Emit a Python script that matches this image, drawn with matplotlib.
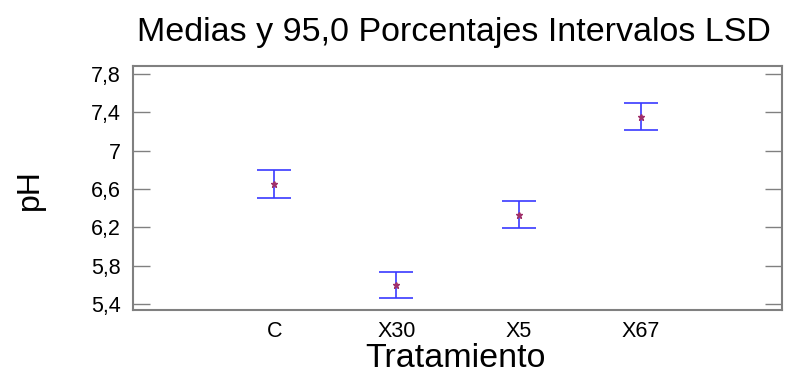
import matplotlib
matplotlib.use("Agg")
import matplotlib.pyplot as plt
from matplotlib.ticker import FuncFormatter

plt.rcParams["font.family"] = ["Liberation Sans", "DejaVu Sans"]

tratamientos = ["C", "X30", "X5", "X67"]
medias = [6.65, 5.595, 6.33, 7.352]
lsd = [0.146, 0.134, 0.141, 0.141]
yticks = [5.4, 5.8, 6.2, 6.6, 7.0, 7.4, 7.8]

fig = plt.figure(figsize=(7.99, 3.74), dpi=100)
ax = fig.add_axes([133 / 799, 1 - 310 / 374, 649 / 799, 244 / 374])

x = list(range(len(tratamientos)))
ax.errorbar(x, medias, yerr=lsd, fmt="none", ecolor="#3a3aff", elinewidth=1.2,
            capsize=12, capthick=1.2)
ax.plot(x, medias, linestyle="none", marker="*", markersize=5, color="#a0306a")

ax.set_xlim(-1.156, 4.156)
ax.set_ylim(5.337, 7.883)
ax.set_xticks(x)
ax.set_xticklabels(tratamientos)
ax.set_yticks(yticks)
ax.yaxis.set_major_formatter(FuncFormatter(lambda v, p: f"{v:g}".replace(".", ",")))

ax.tick_params(axis="y", direction="in", length=12, color="#808080", width=1,
               labelsize=15.5, right=True, pad=9)
ax.tick_params(axis="x", length=0, labelsize=15.5, pad=8)
for s in ax.spines.values():
    s.set_color("#808080")
    s.set_linewidth(1.5)

fig.text(30 / 799, 1 - 190 / 374, "pH", fontsize=23, rotation=90,
         ha="center", va="center")
fig.text(455 / 799, 1 - 367 / 374, "Tratamiento", fontsize=24.5,
         ha="center", va="baseline")
fig.text(0.568, 0.912, "Medias y 95,0 Porcentajes Intervalos LSD", fontsize=24.5,
         ha="center", va="center")

fig.savefig("out.png", dpi=100)
